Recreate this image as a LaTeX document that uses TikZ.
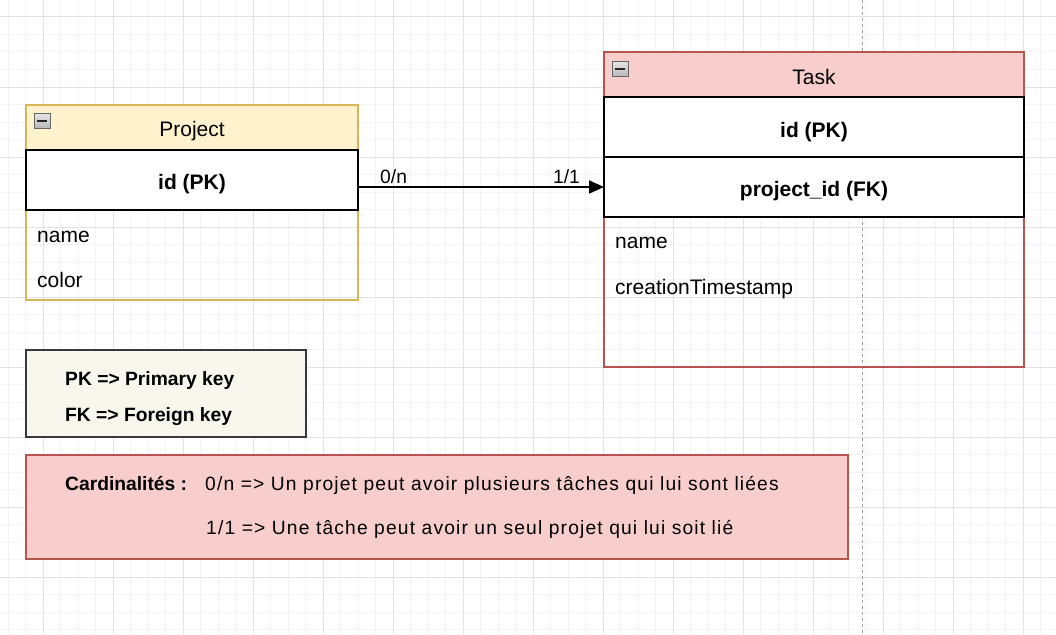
\documentclass[tikz,border=0pt]{standalone}
\usepackage{fontspec}
\setmainfont{Liberation Sans}
\newfontfamily\cardfont[LetterSpace=6]{Liberation Sans}
\usetikzlibrary{arrows.meta}
\definecolor{projfill}{HTML}{FFF2CC}
\definecolor{projline}{HTML}{D6B656}
\definecolor{taskfill}{HTML}{F8CECC}
\definecolor{taskline}{HTML}{B85450}
\definecolor{legfill}{HTML}{F9F7ED}
\definecolor{legline}{HTML}{36393D}
\definecolor{gridminor}{HTML}{F3F3F3}
\definecolor{gridmajor}{HTML}{E2E2E2}
\begin{document}
\begin{tikzpicture}[x=1pt,y=-1pt,
  box/.style={inner sep=0pt, outer sep=0pt, anchor=north west, line width=1.75pt},
  keyrow/.style={box, draw=black, fill=white, line width=2pt},
  big/.style={font=\fontsize{21}{25}\selectfont, inner sep=0pt},
  bigb/.style={font=\fontsize{21}{25}\selectfont\bfseries, inner sep=0pt},
  small/.style={font=\fontsize{19.25}{23}\selectfont, inner sep=0pt},
  smallb/.style={font=\fontsize{19.25}{23}\selectfont\bfseries, inner sep=0pt},
  icon/.style={draw=gray!80!black, top color=gray!20, bottom color=gray!55, line width=0.8pt},
  minus/.style={line width=2pt, black!85}
]
\useasboundingbox (0,0) rectangle (1056,634);
\fill[white] (0,0) rectangle (1056,634);
% grid
\foreach \i in {0,...,59} \draw[gridminor, line width=1pt] ({8+17.5*\i},0) -- ({8+17.5*\i},634);
\foreach \j in {1,...,36} \draw[gridminor, line width=1pt] (0,{-0.5+17.5*\j}) -- (1056,{-0.5+17.5*\j});
\foreach \i in {0,...,14} \draw[gridmajor, line width=1pt] ({43+70*\i},0) -- ({43+70*\i},634);
\foreach \j in {0,...,8} \draw[gridmajor, line width=1pt] (0,{17+70*\j}) -- (1056,{17+70*\j});
% page break line
\coordinate (pbtop) at (862,0);
\coordinate (pbbot) at (862,634);
\draw[gray!75, line width=0.9pt, dash pattern=on 3pt off 3pt] (pbtop) -- (pbbot);

% Project entity
\node[box, draw=projline, minimum width=332pt, minimum height=195pt] (projbox) at (26,105) {};
\node[box, draw=projline, fill=projfill, minimum width=332pt, minimum height=45pt] (projhdr) at (26,105) {};
\node[keyrow, minimum width=332pt, minimum height=60pt] (projid) at (26,150) {};
\draw[icon] (34,113) rectangle (50,128);
\draw[minus] (37,120.5) -- (47,120.5);
\node[big, anchor=base] (projtitle) at (192,136.5) {Project};
\node[bigb, anchor=base] (projidtxt) at (192,189.3) {id (PK)};
\node[big, anchor=base west] (projname) at (37,242) {name};
\node[big, anchor=base west] (projcolor) at (37,287) {color};

% Task entity
\node[box, draw=taskline, minimum width=420pt, minimum height=315pt] (taskbox) at (604,52) {};
\node[box, draw=taskline, fill=taskfill, minimum width=420pt, minimum height=45pt] (taskhdr) at (604,52) {};
\node[keyrow, minimum width=420pt, minimum height=60pt] (taskid) at (604,97) {};
\node[keyrow, minimum width=420pt, minimum height=60pt] (taskfk) at (604,157) {};
\draw[icon] (612,61) rectangle (628,76);
\draw[minus] (615,68.5) -- (625,68.5);
\node[big, anchor=base] (tasktitle) at (814,84.3) {Task};
\node[bigb, anchor=base] (taskidtxt) at (814,137.3) {id (PK)};
\node[bigb, anchor=base] (taskfktxt) at (814,196.7) {project\_id (FK)};
\node[big, anchor=base west] (taskname) at (615,248.3) {name};
\node[big, anchor=base west] (taskts) at (615,294.3) {creationTimestamp};

% relation
\draw[line width=1.75pt, -{Triangle[length=15pt,width=13pt]}] (projid.east |- taskfk.west) -- (taskfk.west);
\node[small, anchor=base west] (card0n) at (380,183) {0/n};
\node[small, anchor=base east] (card11) at (580,183) {1/1};

% legend
\node[box, draw=legline, fill=legfill, minimum width=280pt, minimum height=87pt] (legend) at (26,350) {};
\node[smallb, anchor=base west] (legpk) at (65,385) {PK => Primary key};
\node[smallb, anchor=base west] (legfk) at (65,421) {FK => Foreign key};

% cardinalities
\node[box, draw=taskline, fill=taskfill, minimum width=822pt, minimum height=104pt] (cardbox) at (26,455) {};
\node[smallb, anchor=base west] (cardtitle) at (65,490) {Cardinalités :};
\node[small, anchor=base west, font=\fontsize{19.25}{23}\cardfont] (cardone) at (205,490) {0/n => Un projet peut avoir plusieurs tâches qui lui sont liées};
\node[small, anchor=base west, font=\fontsize{19.25}{23}\cardfont] (cardtwo) at (206,534) {1/1 => Une tâche peut avoir un seul projet qui lui soit lié};
\end{tikzpicture}
\end{document}
